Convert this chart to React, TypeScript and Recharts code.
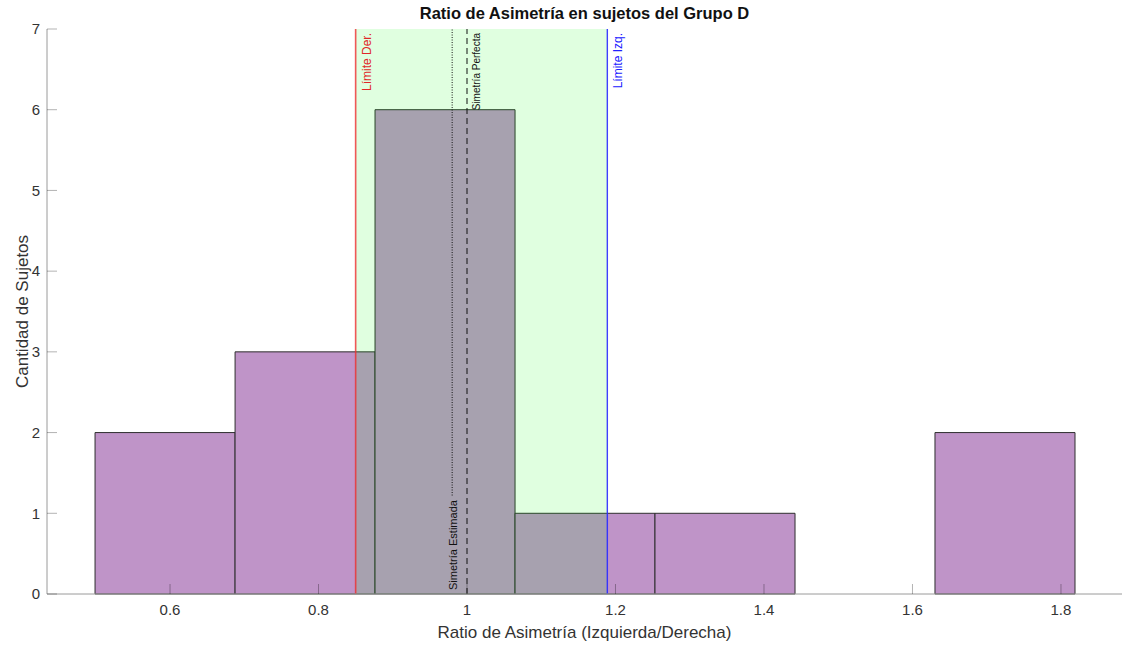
import { ComposedChart, XAxis, YAxis, ReferenceArea, ReferenceLine } from "recharts";

// histogram bins
const binEdges = [0.499, 0.6876, 0.8761, 1.0647, 1.2532, 1.4418, 1.6303, 1.8189];
const binCounts = [2, 3, 6, 1, 1, 0, 2];

const xTicks = [0.6, 0.8, 1, 1.2, 1.4, 1.6, 1.8];
const yTicks = [0, 1, 2, 3, 4, 5, 6, 7];
const xLimits = [0.4343, 1.8822];
const yLimits = [0, 7];

// reference values
const limiteDer = 0.85;
const limiteIzq = 1.189;
const simetriaEstimada = 0.98;
const simetriaPerfecta = 1;
const estimadaLineStart = 1.22;

const font = "'Liberation Sans', Arial, Helvetica, sans-serif";

const bins = binCounts.map((count, i) => ({
  x0: binEdges[i],
  x1: binEdges[i + 1],
  count,
}));

const vLabel =
  (text: string, color: string, dx: number, fontSize: number, atBottom = false) =>
  (props: any) => {
    const vb = props.viewBox;
    const x = vb.x + dx;
    const y = atBottom ? vb.y + vb.height - 4 : vb.y + 4;
    return (
      <text
        x={x}
        y={y}
        transform={`rotate(-90 ${x} ${y})`}
        textAnchor={atBottom ? "start" : "end"}
        fill={color}
        fontSize={fontSize}
        fontFamily={font}
      >
        {text}
      </text>
    );
  };

export default function App() {
  return (
    <div style={{ position: "absolute", left: 0, top: 0, width: 1125, height: 645, background: "#fff" }}>
      <div
        style={{
          position: "absolute",
          left: 47,
          width: 1075,
          top: 4,
          textAlign: "center",
          fontFamily: font,
          fontWeight: "bold",
          fontSize: 16.5,
          color: "#111",
        }}
      >
        Ratio de Asimetría en sujetos del Grupo D
      </div>
      <ComposedChart
        width={1125}
        height={645}
        data={bins}
        margin={{ top: 29, right: 3, left: 0, bottom: 0 }}
      >
        <XAxis
          type="number"
          dataKey="x0"
          domain={xLimits}
          ticks={xTicks}
          allowDataOverflow
          height={51}
          tickSize={-10}
          tickMargin={20}
          axisLine={{ stroke: "#9a9a9a" }}
          tickLine={{ stroke: "#000", strokeOpacity: 0.3 }}
          tick={{ fill: "#333", fontSize: 15, fontFamily: font }}
          label={{
            content: (p: any) => (
              <text
                x={p.viewBox.x + p.viewBox.width / 2}
                y={638}
                textAnchor="middle"
                fill="#333"
                fontSize={17}
                fontFamily={font}
              >
                Ratio de Asimetría (Izquierda/Derecha)
              </text>
            ),
          }}
        />
        <YAxis
          type="number"
          domain={yLimits}
          ticks={yTicks}
          allowDataOverflow
          width={47}
          tickSize={-10}
          tickMargin={17}
          axisLine={{ stroke: "#9a9a9a" }}
          tickLine={{ stroke: "#000", strokeOpacity: 0.3 }}
          tick={{ fill: "#333", fontSize: 15, fontFamily: font }}
          label={{
            content: (p: any) => {
              const y = p.viewBox.y + p.viewBox.height / 2;
              return (
                <text
                  x={28}
                  y={y}
                  transform={`rotate(-90 28 ${y})`}
                  textAnchor="middle"
                  fill="#333"
                  fontSize={17}
                  fontFamily={font}
                >
                  Cantidad de Sujetos
                </text>
              );
            },
          }}
        />
        {bins
          .filter((b) => b.count > 0)
          .map((b) => (
            <ReferenceArea
              key={b.x0}
              x1={b.x0}
              x2={b.x1}
              y1={0}
              y2={b.count}
              fill="#BF94C8"
              fillOpacity={1}
              stroke="#2e2e2e"
              strokeWidth={1}
              ifOverflow="visible"
            />
          ))}
        <ReferenceArea x1={limiteDer} x2={limiteIzq} fill="#00ff00" fillOpacity={0.12} stroke="none" />
        <ReferenceLine
          x={limiteDer}
          stroke="#ee3030"
          strokeOpacity={0.8}
          strokeWidth={1.6}
          label={{ content: vLabel("Límite Der.", "#e02828", 15, 12) }}
        />
        <ReferenceLine
          x={limiteIzq}
          stroke="#2a2aff"
          strokeOpacity={0.9}
          strokeWidth={1.4}
          label={{ content: vLabel("Límite Izq.", "#2020ff", 15, 12) }}
        />
        <ReferenceLine
          segment={[
            { x: simetriaEstimada, y: estimadaLineStart },
            { x: simetriaEstimada, y: yLimits[1] },
          ]}
          stroke="#111"
          strokeWidth={1}
          strokeDasharray="1 1.5"
        />
        <ReferenceLine
          x={simetriaEstimada}
          stroke="none"
          label={{ content: vLabel("Simetría Estimada", "#111", 5, 11, true) }}
        />
        <ReferenceLine
          x={simetriaPerfecta}
          stroke="#111"
          strokeWidth={1}
          strokeDasharray="6 4"
          label={{ content: vLabel("Simetría Perfecta", "#111", 13, 10) }}
        />
      </ComposedChart>
    </div>
  );
}
